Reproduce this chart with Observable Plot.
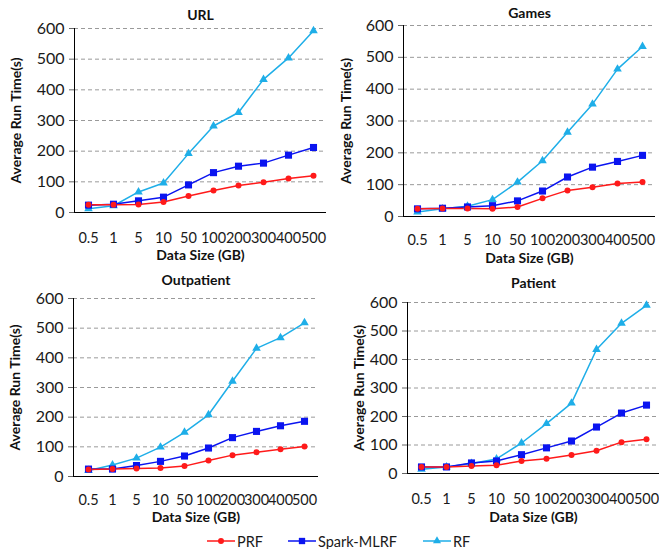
<!DOCTYPE html>
<html>
<head>
<meta charset="utf-8">
<script src="https://cdn.jsdelivr.net/npm/d3@7"></script>
<script src="https://cdn.jsdelivr.net/npm/@observablehq/plot@0.6"></script>
<style>
  html, body { margin: 0; padding: 0; background: #fff; }
  #root { position: relative; width: 659px; height: 549px; overflow: hidden; font-family: Lato, "Open Sans", sans-serif; }
  .panel { position: absolute; }
  #legend { position: absolute; top: 532px; left: 0; width: 659px; height: 18px; font-size: 14.5px; color: #1a1a1a; }
  .item { position: absolute; top: 0; display: flex; align-items: center; }
  .item svg { display: block; }
  .item span { margin-left: 2px; }
</style>
</head>
<body>
<div id="root"></div>
<script>
const sizes = ["0.5", "1", "5", "10", "50", "100", "200", "300", "400", "500"];
const seriesNames = ["PRF", "Spark-MLRF", "RF"];
const seriesColors = ["#ff1a1a", "#0a14f0", "#1eaee8"];
const yTicks = [0, 100, 200, 300, 400, 500, 600];
const panelTitles = ["URL", "Games", "Outpatient", "Patient"];

const urlPRF   = [25, 25, 26, 34, 54, 72, 88, 99, 111, 120];
const urlSpark = [24, 27, 38, 50, 90, 130, 151, 161, 187, 212];
const urlRF    = [12, 22, 67, 96, 192, 282, 326, 434, 504, 593];

const gamesPRF   = [24, 25, 25, 24, 30, 57, 82, 92, 104, 108];
const gamesSpark = [24, 26, 30, 34, 49, 80, 124, 155, 173, 192];
const gamesRF    = [14, 24, 32, 53, 108, 175, 265, 353, 463, 534];

const outPRF   = [24, 25, 27, 29, 35, 54, 72, 82, 92, 101];
const outSpark = [25, 25, 37, 51, 69, 96, 131, 152, 171, 186];
const outRF    = [20, 39, 62, 99, 149, 208, 321, 432, 468, 518];

const patPRF   = [23, 23, 26, 29, 44, 52, 65, 80, 110, 120];
const patSpark = [23, 23, 37, 44, 66, 90, 114, 163, 212, 240];
const patRF    = [15, 23, 35, 51, 107, 175, 247, 435, 527, 590];

const panelData = [
  [urlPRF, urlSpark, urlRF],
  [gamesPRF, gamesSpark, gamesRF],
  [outPRF, outSpark, outRF],
  [patPRF, patSpark, patRF]
];

const layouts = [
  {left: 0,   top: 0,   width: 330, height: 268, ml: 74, mr: 4,  mt: 28, y0: 212, tickLab: 20, xLab: 43, titleY: 15, yLabX: 16},
  {left: 330, top: 0,   width: 329, height: 268, ml: 73, mr: 4,  mt: 25, y0: 216, tickLab: 18, xLab: 42, titleY: 13, yLabX: 16},
  {left: 0,   top: 270, width: 330, height: 258, ml: 73, mr: 12, mt: 28, y0: 206, tickLab: 18, xLab: 41, titleY: 10, yLabX: 15},
  {left: 330, top: 270, width: 329, height: 258, ml: 77, mr: 0,  mt: 32, y0: 203, tickLab: 20, xLab: 44, titleY: 13, yLabX: 29}
];

const root = document.getElementById("root");

panelTitles.forEach((title, p) => {
  const L = layouts[p];
  const rows = [];
  seriesNames.forEach((s, si) => {
    panelData[p][si].forEach((v, i) => rows.push({size: sizes[i], value: v, series: s}));
  });
  const bySeries = s => rows.filter(d => d.series === s);
  const mb = L.height - L.y0;
  const chart = Plot.plot({
    width: L.width,
    height: L.height,
    marginLeft: L.ml,
    marginRight: L.mr,
    marginTop: L.mt,
    marginBottom: mb,
    style: {fontFamily: "Lato, 'Open Sans', sans-serif", fontSize: "14px", color: "#1a1a1a", background: "transparent", overflow: "visible"},
    x: {type: "point", domain: sizes, padding: 0.5, label: null},
    y: {domain: [0, 600], label: null},
    color: {domain: seriesNames, range: seriesColors},
    marks: [
      Plot.ruleY(yTicks.filter(t => t > 0), {stroke: "#9a9a9a", strokeDasharray: "4,3", strokeWidth: 1}),
      Plot.axisY({ticks: yTicks, tickSize: 5, tickPadding: 5, label: null, stroke: "#666", fill: "#1a1a1a", fontSize: 16}),
      Plot.frame({anchor: "left", stroke: "#000"}),
      Plot.ruleY([0], {stroke: "#000", strokeWidth: 1.2}),
      Plot.axisX({tickSize: 0, tickPadding: L.tickLab, label: null, fill: "#1a1a1a", fontSize: 14.5}),
      Plot.line(bySeries("RF"), {x: "size", y: "value", stroke: seriesColors[2], strokeWidth: 1.5}),
      Plot.line(bySeries("Spark-MLRF"), {x: "size", y: "value", stroke: seriesColors[1], strokeWidth: 1.5}),
      Plot.line(bySeries("PRF"), {x: "size", y: "value", stroke: seriesColors[0], strokeWidth: 1.5}),
      Plot.dot(bySeries("RF"), {x: "size", y: "value", fill: seriesColors[2], symbol: "triangle", r: 3.2}),
      Plot.dot(bySeries("Spark-MLRF"), {x: "size", y: "value", fill: seriesColors[1], symbol: "square", r: 4}),
      Plot.dot(bySeries("PRF"), {x: "size", y: "value", fill: seriesColors[0], symbol: "circle", r: 3}),
      Plot.text([title], {frameAnchor: "top", dy: L.titleY - L.mt, fontWeight: "bold", fontSize: 14, fill: "#111", lineAnchor: "middle"}),
      Plot.text(["Data Size (GB)"], {frameAnchor: "bottom", dy: L.xLab, fontWeight: "bold", fontSize: 14, fill: "#111", lineAnchor: "middle"}),
      Plot.text(["Average Run Time(s)"], {frameAnchor: "left", dx: L.yLabX - L.ml, rotate: -90, textAnchor: "middle", lineAnchor: "middle", fontWeight: "bold", fontSize: 14, fill: "#111"})
    ]
  });
  chart.classList.add("panel");
  chart.style.left = L.left + "px";
  chart.style.top = L.top + "px";
  root.appendChild(chart);
});

// Legend
const legend = document.createElement("div");
legend.id = "legend";
const legendPos = [207, 288, 423];
const legendSymbols = [d3.symbolCircle, d3.symbolSquare, d3.symbolTriangle];
const legendSymbolSize = [28, 40, 28];
seriesNames.forEach((s, i) => {
  const item = document.createElement("div");
  item.className = "item";
  item.style.left = legendPos[i] + "px";
  const ns = "http://www.w3.org/2000/svg";
  const svg = document.createElementNS(ns, "svg");
  svg.setAttribute("width", 28);
  svg.setAttribute("height", 18);
  const line = document.createElementNS(ns, "line");
  line.setAttribute("x1", 0); line.setAttribute("x2", 28);
  line.setAttribute("y1", 9); line.setAttribute("y2", 9);
  line.setAttribute("stroke", seriesColors[i]); line.setAttribute("stroke-width", 1.5);
  svg.appendChild(line);
  const sym = document.createElementNS(ns, "path");
  sym.setAttribute("d", d3.symbol(legendSymbols[i], legendSymbolSize[i])());
  sym.setAttribute("transform", "translate(14,9)");
  sym.setAttribute("fill", seriesColors[i]);
  svg.appendChild(sym);
  item.appendChild(svg);
  const span = document.createElement("span");
  span.textContent = s;
  item.appendChild(span);
  legend.appendChild(item);
});
root.appendChild(legend);
</script>
</body>
</html>
